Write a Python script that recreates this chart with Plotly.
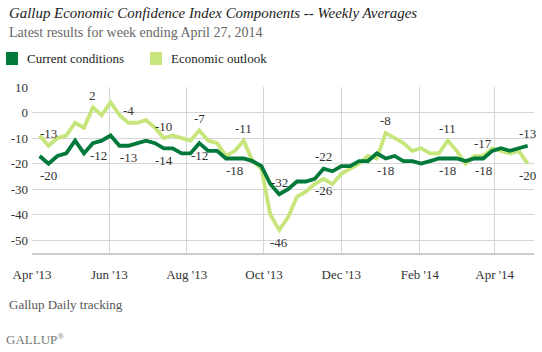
import pandas as pd
import plotly.graph_objects as go

# ---------------- data ----------------
first_week = "2013-04-07"
n_weeks = 56
weeks = pd.date_range(first_week, periods=n_weeks, freq="7D")

current_conditions = [
    -17, -20, -17, -16, -11, -16, -12, -11, -9, -13,
    -13, -12, -11, -12, -14, -14, -16, -16, -12, -15,
    -15, -18, -18, -18, -19, -21, -28, -32, -30, -27,
    -27, -26, -22, -23, -21, -21, -19, -19, -16, -18,
    -17, -19, -19, -20, -19, -18, -18, -18, -19, -18,
    -18, -15, -14, -15, -14, -13,
]
economic_outlook = [
    -9, -13, -10, -9, -4, -6, 2, -1, 4, -1,
    -4, -4, -3, -6, -10, -9, -10, -11, -7, -11,
    -12, -17, -15, -11, -19, -22, -40, -46, -41, -33,
    -31, -28, -26, -28, -24, -22, -20, -17, -18, -8,
    -10, -12, -15, -14, -16, -16, -11, -15, -20, -17,
    -17, -14, -15, -16, -15, -20,
]

series_names = ["Current conditions", "Economic outlook"]

# value labels: (week index, position)
cc_labels = [(1, "below"), (6, "below"), (10, "below"), (14, "below"), (18, "below"),
             (22, "below"), (27, "above"), (32, "above"), (39, "below"), (46, "below"),
             (50, "below"), (55, "above")]
eo_labels = [(1, "above"), (6, "above"), (10, "above"), (14, "above"), (18, "above"),
             (23, "above"), (27, "below"), (32, "below"), (39, "above"), (46, "above"),
             (50, "above"), (55, "below")]

y_tick_vals = [10, 0, -10, -20, -30, -40, -50]
y_tick_text = ["10", "0", "-10", "-20", "-30", "-40", "-50"]

title_text = "Gallup Economic Confidence Index Components -- Weekly Averages"
subtitle_text = "Latest results for week ending April 27, 2014"
source_text = "Gallup Daily tracking"
brand_text = "GALLUP"

# ---------------- style ----------------
W, H = 542, 352
ML, MR, MT, MB = 32, 8, 87, 99
DARK = "#00793b"
LIGHT = "#c6e57a"
SERIF = "Liberation Serif"
TEXT = "#333333"
GRID = "#d6d6d6"

PW = W - ML - MR
PH = H - MT - MB


def px(x):
    return (x - ML) / PW


def py(y):
    return (H - MB - y) / PH


fig = go.Figure()
fig.add_trace(go.Scatter(x=weeks, y=economic_outlook, mode="lines", name=series_names[1],
                         line=dict(color=LIGHT, width=3.8), showlegend=False,
                         hoverinfo="x+y"))
fig.add_trace(go.Scatter(x=weeks, y=current_conditions, mode="lines", name=series_names[0],
                         line=dict(color=DARK, width=3.8), showlegend=False,
                         hoverinfo="x+y"))

annotations = []


def add_labels(values, labels, xshift_map=None):
    for idx, pos in labels:
        v = values[idx]
        annotations.append(dict(
            x=weeks[idx], y=v, xref="x", yref="y",
            text=str(v), showarrow=False,
            yshift=12 if pos == "above" else -12,
            xshift=(xshift_map or {}).get(idx, 0),
            font=dict(family=SERIF, size=13, color=TEXT),
        ))


add_labels(current_conditions, cc_labels, {6: 6})
add_labels(economic_outlook, eo_labels)

# title / subtitle / footer
annotations.append(dict(x=px(7), y=py(13), xref="paper", yref="paper", xanchor="left",
                        yanchor="middle", showarrow=False, text="<i>" + title_text + "</i>",
                        font=dict(family=SERIF, size=14.9, color="#222222")))
annotations.append(dict(x=px(7), y=py(32), xref="paper", yref="paper", xanchor="left",
                        yanchor="middle", showarrow=False, text=subtitle_text,
                        font=dict(family=SERIF, size=14, color="#666666")))
annotations.append(dict(x=px(7), y=py(304), xref="paper", yref="paper", xanchor="left",
                        yanchor="middle", showarrow=False, text=source_text,
                        font=dict(family=SERIF, size=13, color="#555555")))
annotations.append(dict(x=px(4), y=py(339), xref="paper", yref="paper", xanchor="left",
                        yanchor="middle", showarrow=False,
                        text=brand_text + "<sup>®</sup>",
                        font=dict(family=SERIF, size=13, color="#777777")))

# legend (squares + text)
shapes = []
legend_items = [(series_names[0], DARK, 6), (series_names[1], LIGHT, 150)]
for name, col, x0 in legend_items:
    shapes.append(dict(type="rect", xref="paper", yref="paper",
                       x0=px(x0), x1=px(x0 + 12), y0=py(65), y1=py(52),
                       fillcolor=col, line=dict(width=0)))
    annotations.append(dict(x=px(x0 + 19), y=py(58), xref="paper", yref="paper",
                            xanchor="left", yanchor="middle", showarrow=False, text=name,
                            font=dict(family=SERIF, size=13, color="#222222")))

fig.update_layout(
    width=W, height=H,
    margin=dict(l=ML, r=MR, t=MT, b=MB, pad=0),
    paper_bgcolor="white", plot_bgcolor="white",
    annotations=annotations, shapes=shapes,
    showlegend=False,
    font=dict(family=SERIF, color=TEXT),
    xaxis=dict(
        type="date", range=["2013-04-01", "2014-05-02"],
        tick0="2013-04-01", dtick="M2", tickformat="%b '%y",
        showgrid=True, gridcolor=GRID, gridwidth=1,
        showline=True, linecolor="#cccccc", linewidth=2,
        ticks="", zeroline=False,
        tickfont=dict(family=SERIF, size=13, color=TEXT),
        ticklabelstandoff=8,
    ),
    yaxis=dict(
        range=[-55, 10], tickvals=y_tick_vals, ticktext=y_tick_text,
        showgrid=True, gridcolor=GRID, gridwidth=1,
        zeroline=False, showline=False, ticks="",
        tickfont=dict(family=SERIF, size=13, color=TEXT),
        ticklabelstandoff=3,
    ),
)

fig.write_html("out.html")
